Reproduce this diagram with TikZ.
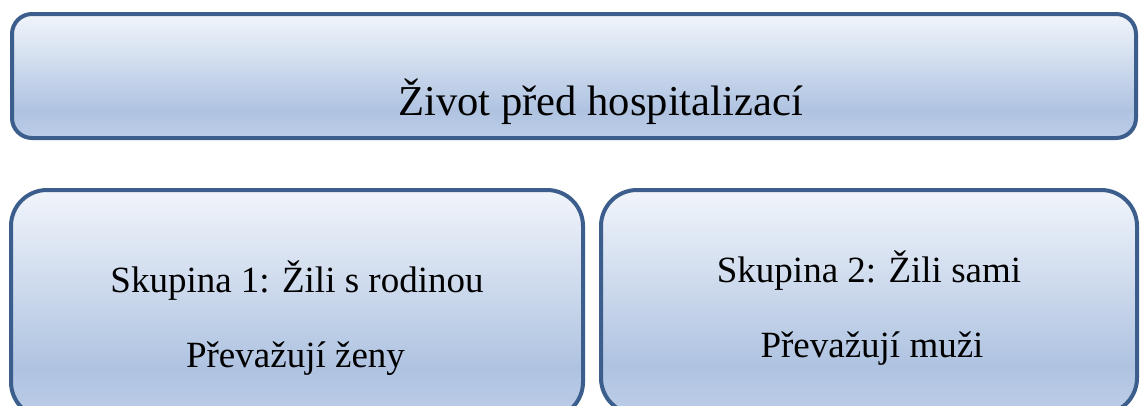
\documentclass[tikz,border=0pt]{standalone}
\usepackage{fontspec}
\setmainfont{Liberation Serif}
\usepackage{tikz}

\definecolor{boxedge}{HTML}{3B5E8C}
\definecolor{shTop}{HTML}{F1F5FB}
\definecolor{shMid}{HTML}{AFC3E1}
\definecolor{shBot}{HTML}{BCCDE7}
\pgfdeclareverticalshading{boxshade}{100bp}{color(0bp)=(shBot); color(25bp)=(shBot); color(36bp)=(shMid); color(75bp)=(shTop); color(100bp)=(shTop)}

\tikzset{
  roundbox/.style={draw=boxedge, line width=4pt, shading=boxshade, inner sep=0pt},
  boxtext/.style={anchor=base, inner sep=0pt, font=\fontsize{37}{37}\selectfont}
}

\begin{document}
\begin{tikzpicture}[x=1pt, y=-1pt]
  \useasboundingbox (0,0) rectangle (1140,405);
  % Boxes
  \node[roundbox, rounded corners=20pt, minimum width=1124pt, minimum height=124pt] (life) at (574,76) {};
  \node[roundbox, rounded corners=36pt, minimum width=572pt, minimum height=228pt] (family) at (297,304) {};
  \node[roundbox, rounded corners=36pt, minimum width=536pt, minimum height=224pt] (alone) at (869,302) {};

  % Texts
  \node[boxtext, font=\fontsize{42.6}{42.6}\selectfont] (lifetext) at (600.5,115) {Život před hospitalizací};
  \node[boxtext] (familyone) at (297,292) {Skupina 1: Žili s rodinou};
  \node[boxtext] (familytwo) at (295.5,367) {Převažují ženy};
  \node[boxtext] (aloneone) at (869,282) {Skupina 2: Žili sami};
  \node[boxtext] (alonetwo) at (872,357) {Převažují muži};
\end{tikzpicture}
\end{document}
